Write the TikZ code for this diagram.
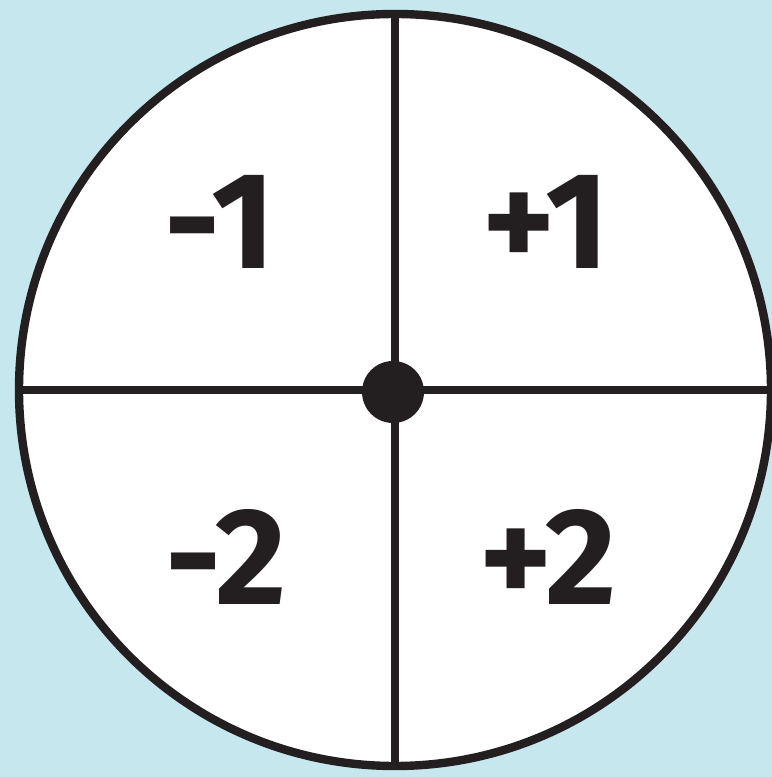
\documentclass[tikz,border=0pt]{standalone}
\usepackage{fontspec}
\setsansfont{Fira Sans}
\usepackage{tikz}
\usetikzlibrary{positioning,calc}
\definecolor{spsky}{HTML}{C7E7EF}
\definecolor{spink}{HTML}{231F20}

\begin{document}
\begin{tikzpicture}[x=0.25mm,y=0.25mm,font=\sffamily\bfseries,
  wheel/.style={circle,draw=spink,fill=white,line width=2.1mm,inner sep=0pt,outer sep=0pt,minimum size=188mm},
  spoke/.style={spink,line width=1.9mm},
  hub/.style={circle,fill=spink,inner sep=0pt,minimum size=15.5mm},
  score/.style={text=spink,inner sep=0pt,font=\sffamily\bfseries\fontsize{98}{98}\selectfont}]
  \fill[spsky] (0,0) rectangle (772,777);
  \clip (0,0) rectangle (772,777);
  \node[wheel] (disc) at (395,387) {};
  \draw[spoke] (disc.north) -- (disc.south);
  \draw[spoke] (disc.west) -- (disc.east);
  \node[hub] (pin) at (393,385) {};
  \node[score] (m1) at (220,555) {-1};
  \node[score] (p1) at (546,555) {+1};
  \node[score] (m2) at (226,220) {-2};
  \node[score] (p2) at (548,220) {+2};
\end{tikzpicture}
\end{document}
